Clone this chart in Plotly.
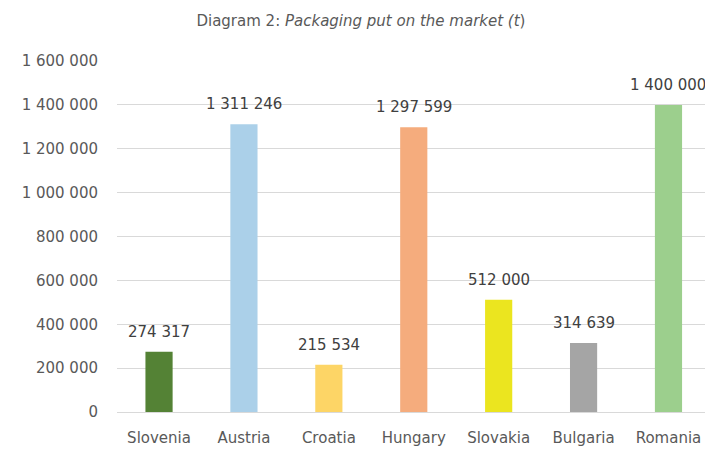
import plotly.graph_objects as go

countries = ["Slovenia", "Austria", "Croatia", "Hungary", "Slovakia", "Bulgaria", "Romania"]
values = [274317, 1311246, 215534, 1297599, 512000, 314639, 1400000]
colors = ["#548235", "#abd0e9", "#fdd566", "#f5ac7d", "#ebe51f", "#a5a5a5", "#9ccf8d"]
y_ticks = [0, 200000, 400000, 600000, 800000, 1000000, 1200000, 1400000, 1600000]


def fmt(v):
    return f"{v:,}".replace(",", " ")


FONT = "DejaVu Sans"

fig = go.Figure()
fig.add_trace(go.Bar(
    x=countries, y=values, marker=dict(color=colors, line=dict(width=0)),
    width=0.32, hoverinfo="skip",
))

for c, v in zip(countries, values):
    fig.add_annotation(x=c, y=v, text=fmt(v), showarrow=False, yanchor="bottom",
                       yshift=9, font=dict(family=FONT, size=15, color="#404040"))

fig.update_layout(
    width=705, height=450,
    margin=dict(l=117, r=0, t=61, b=38, autoexpand=False),
    paper_bgcolor="white", plot_bgcolor="white",
    showlegend=False,
    title=dict(
        text="Diagram 2: <i>Packaging put on the market (t</i>)",
        x=0.512, xanchor="center", y=0.955, yanchor="middle",
        font=dict(family=FONT, size=15, color="#595959"),
    ),
    font=dict(family=FONT, color="#595959"),
)
fig.update_xaxes(
    range=[-0.495, 6.43],
    showgrid=False, showline=True, linecolor="#d9d9d9", linewidth=1,
    tickfont=dict(family=FONT, size=15, color="#595959"),
    ticks="", ticklabelstandoff=12, fixedrange=True, automargin=False,
)
fig.update_yaxes(
    range=[0, 1600000], tickvals=y_ticks, ticktext=[fmt(t) for t in y_ticks],
    showgrid=True, gridcolor="#d9d9d9", gridwidth=1, zeroline=False,
    tickfont=dict(family=FONT, size=15, color="#595959"),
    ticks="", ticklabelstandoff=18, fixedrange=True, automargin=False,
)

fig.write_html("out.html", config={"displayModeBar": False},
               post_script="document.body.style.margin='0px';")
